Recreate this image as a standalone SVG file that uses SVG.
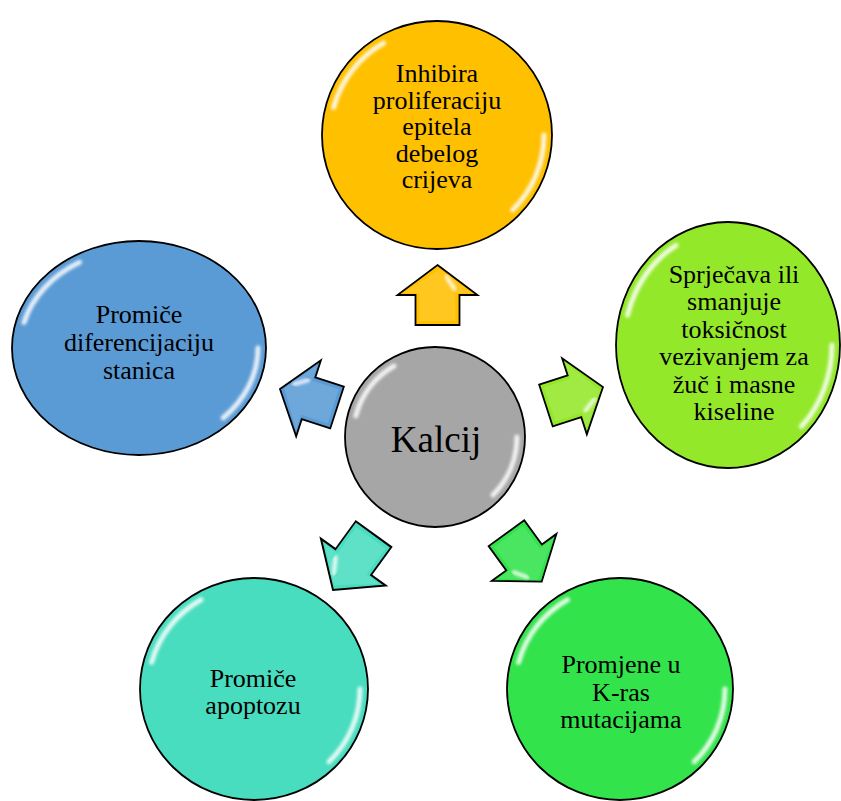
<svg xmlns="http://www.w3.org/2000/svg" xmlns:xlink="http://www.w3.org/1999/xlink" width="841" height="801" viewBox="0 0 841 801">
<style>
.node{stroke:#000;stroke-width:1.8}
.gloss{fill:none;stroke:#fff;stroke-width:5;stroke-linecap:round;opacity:0.85;filter:url(#blur)}
.lbl{font-family:"Liberation Serif","Times New Roman",serif;font-size:26px;fill:#000;text-anchor:middle}
.big{font-size:37px}
.arrow{stroke:#000;stroke-width:1.8;stroke-linejoin:miter}
</style>
<defs>
<filter id="blur" x="-20%" y="-20%" width="140%" height="140%"><feGaussianBlur stdDeviation="1.6"/></filter>
<g id="arr">
<polygon class="arrow" points="0,0 40,30 22,30 22,60 -22,60 -22,30 -40,30"/>
<polygon points="2,4 34,28 18,28 18,56 -18,56 -18,28 -34,28" fill="#fff" opacity="0.12"/>
<path d="M9,12 L17,24" stroke="#fff" stroke-width="4" stroke-linecap="round" opacity="0.85" filter="url(#blur)"/>
<path d="M-14,53 L14,53" stroke="#fff" stroke-width="4" stroke-linecap="round" opacity="0.85" filter="url(#blur)"/>
</g>
</defs>
<rect width="841" height="801" fill="#fff"/>

<g id="connectors">
<use xlink:href="#arr" href="#arr" fill="#FFC000" transform="translate(437.5,265)"/>
<use xlink:href="#arr" href="#arr" fill="#94E82A" transform="translate(603,387) rotate(72)"/>
<use xlink:href="#arr" href="#arr" fill="#33E34C" transform="translate(541.7,581.7) rotate(144)"/>
<use xlink:href="#arr" href="#arr" fill="#48DDBF" transform="translate(333,590) rotate(216) scale(1,1.15)"/>
<use xlink:href="#arr" href="#arr" fill="#5B9BD5" transform="translate(280,389) rotate(288)"/>
</g>

<g id="node-top">
<ellipse class="node" cx="437" cy="135" rx="115" ry="114" fill="#FFC000"/>
<path class="gloss" d="M333.6,107.5 A107,106 0 0 1 383.5,43.2"/>
<path class="gloss" d="M544,135 A107,106 0 0 1 512.6,210"/>
<text class="lbl" x="437" y="82">Inhibira</text>
<text class="lbl" x="437" y="108.6">proliferaciju</text>
<text class="lbl" x="437" y="135.2">epitela</text>
<text class="lbl" x="437" y="161.8">debelog</text>
<text class="lbl" x="437" y="188.4">crijeva</text>
</g>

<g id="node-right">
<ellipse class="node" cx="728" cy="345" rx="112" ry="123" fill="#94E82A"/>
<path class="gloss" d="M627.5,315.2 A104,115 0 0 1 676,245.4"/>
<path class="gloss" d="M832,345 A104,115 0 0 1 801.5,426.3"/>
<text class="lbl" x="734" y="283">Sprječava ili</text>
<text class="lbl" x="734" y="310.4">smanjuje</text>
<text class="lbl" x="734" y="337.8">toksičnost</text>
<text class="lbl" x="734" y="365.2">vezivanjem za</text>
<text class="lbl" x="734" y="392.6">žuč i masne</text>
<text class="lbl" x="734" y="420">kiseline</text>
</g>

<g id="node-left">
<ellipse class="node" cx="139" cy="348" rx="127" ry="107" fill="#5B9BD5"/>
<path class="gloss" d="M24,322.4 A119,99 0 0 1 79.5,262.3"/>
<path class="gloss" d="M258,348 A119,99 0 0 1 223.1,418"/>
<text class="lbl" x="139" y="323">Promiče</text>
<text class="lbl" x="139" y="351">diferencijaciju</text>
<text class="lbl" x="139" y="379">stanica</text>
</g>

<g id="node-bottom-left">
<ellipse class="node" cx="254" cy="689" rx="114" ry="111" fill="#48DDBF"/>
<path class="gloss" d="M151.6,662.3 A106,103 0 0 1 201,599.8"/>
<path class="gloss" d="M360,689 A106,103 0 0 1 329,761.8"/>
<text class="lbl" x="253" y="687">Promiče</text>
<text class="lbl" x="253" y="714">apoptozu</text>
</g>

<g id="node-bottom-right">
<ellipse class="node" cx="620" cy="689" rx="113" ry="111" fill="#33E34C"/>
<path class="gloss" d="M518.6,662.3 A105,103 0 0 1 567.5,599.8"/>
<path class="gloss" d="M725,689 A105,103 0 0 1 694.2,761.8"/>
<text class="lbl" x="621" y="673">Promjene u</text>
<text class="lbl" x="621" y="701">K-ras</text>
<text class="lbl" x="621" y="728">mutacijama</text>
</g>

<g id="node-center">
<circle class="node" cx="435" cy="437" r="90" fill="#A6A6A6"/>
<path class="gloss" d="M355.8,415.8 A82,82 0 0 1 394,366"/>
<path class="gloss" d="M517,437 A82,82 0 0 1 493,495"/>
<text class="lbl big" x="436" y="452">Kalcij</text>
</g>
</svg>
